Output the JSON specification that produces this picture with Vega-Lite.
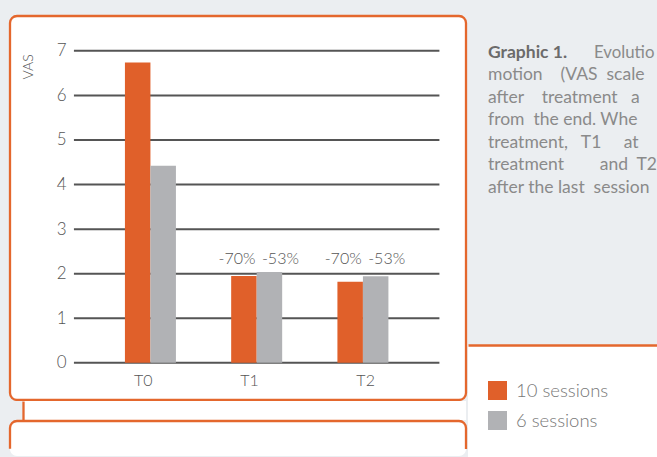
{
  "$schema": "https://vega.github.io/schema/vega-lite/v6.json",
  "background": "#ebeef1",
  "padding": {"left": 8, "top": 14, "right": 0, "bottom": 0},
  "spacing": 0,
  "datasets": {
    "vas": [
      {"time": "T0", "series": "10 sessions", "value": 6.74},
      {"time": "T0", "series": "6 sessions", "value": 4.42},
      {"time": "T1", "series": "10 sessions", "value": 1.95},
      {"time": "T1", "series": "6 sessions", "value": 2.04},
      {"time": "T2", "series": "10 sessions", "value": 1.82},
      {"time": "T2", "series": "6 sessions", "value": 1.94}
    ],
    "change": [
      {"time": "T1", "series": "10 sessions", "label": "-70%"},
      {"time": "T1", "series": "6 sessions", "label": "-53%"},
      {"time": "T2", "series": "10 sessions", "label": "-70%"},
      {"time": "T2", "series": "6 sessions", "label": "-53%"}
    ],
    "grid": [{"v": 0}, {"v": 1}, {"v": 2}, {"v": 3}, {"v": 4}, {"v": 5}, {"v": 6}, {"v": 7}]
  },
  "config": {
    "font": "Lato",
    "view": {"stroke": null}
  },
  "hconcat": [
    {
      "bounds": "flush",
      "spacing": 1,
      "vconcat": [
        {
          "width": 456,
          "height": 384,
          "view": {"fill": "#ffffff", "stroke": "#e4672d", "strokeWidth": 2.3, "cornerRadius": 7},
          "layer": [
            {
              "data": {"name": "grid"},
              "mark": {"type": "rule", "color": "#555555", "strokeWidth": 2},
              "encoding": {
                "y": {
                  "field": "v", "type": "quantitative",
                  "scale": {"domain": [-0.834, 7.782], "nice": false, "zero": false},
                  "axis": {
                    "orient": "left", "offset": -64, "domain": false, "ticks": false, "tickSize": 0, "grid": false,
                    "values": [0, 1, 2, 3, 4, 5, 6, 7], "labelPadding": 8,
                    "labelFont": "Lato", "labelFontSize": 17, "labelFontWeight": 300, "labelColor": "#555555",
                    "title": "VAS", "titleX": -45.2, "titleY": 50.4, "titleAngle": 270, "titleAlign": "center", "titleBaseline": "middle",
                    "titleFont": "Lato", "titleFontSize": 14, "titleFontWeight": 300, "titleColor": "#555555"
                  }
                },
                "x": {"datum": "T0", "type": "nominal", "bandPosition": -1},
                "x2": {"datum": "T2", "bandPosition": 2}
              }
            },
            {
              "data": {"name": "vas"},
              "mark": {"type": "bar"},
              "encoding": {
                "x": {
                  "field": "time", "type": "nominal",
                  "scale": {"paddingInner": 0.52, "paddingOuter": 0.906, "align": 0.597, "round": false},
                  "axis": {
                    "orient": "bottom", "offset": -37, "domain": false, "ticks": false, "tickSize": 0, "grid": false,
                    "labelPadding": 17, "labelAngle": 0, "title": null,
                    "labelOffset": {"condition": {"test": "datum.value === 'T2'", "value": 12}, "value": 2},
                    "labelFont": "Lato", "labelFontSize": 16, "labelFontWeight": 300, "labelColor": "#555555"
                  }
                },
                "xOffset": {"field": "series", "type": "nominal", "scale": {"domain": ["10 sessions", "6 sessions"], "paddingInner": 0, "paddingOuter": 0}},
                "y": {"field": "value", "type": "quantitative"},
                "color": {
                  "field": "series", "type": "nominal",
                  "scale": {"domain": ["10 sessions", "6 sessions"], "range": ["#e0602a", "#b1b2b5"]},
                  "legend": {
                    "orient": "none", "legendX": 478, "legendY": 365, "title": null, "padding": 0,
                    "symbolType": "square", "symbolSize": 361, "symbolStrokeWidth": 0, "symbolOpacity": 1,
                    "labelFont": "Lato", "labelFontSize": 18.5, "labelFontWeight": 300, "labelColor": "#777777",
                    "labelOffset": 9, "rowPadding": 11
                  }
                }
              }
            },
            {
              "data": {"name": "change"},
              "transform": [{"filter": "datum.series === '10 sessions'"}],
              "mark": {"type": "text", "font": "Lato", "fontSize": 16, "fontWeight": 300, "color": "#555555", "baseline": "middle", "dx": -7},
              "encoding": {
                "x": {"field": "time", "type": "nominal"},
                "xOffset": {"field": "series", "type": "nominal"},
                "y": {"datum": 2.333, "type": "quantitative"},
                "text": {"field": "label"}
              }
            },
            {
              "data": {"name": "change"},
              "transform": [{"filter": "datum.series === '6 sessions'"}],
              "mark": {"type": "text", "font": "Lato", "fontSize": 16, "fontWeight": 300, "color": "#555555", "baseline": "middle", "dx": 11},
              "encoding": {
                "x": {"field": "time", "type": "nominal"},
                "xOffset": {"field": "series", "type": "nominal"},
                "y": {"datum": 2.333, "type": "quantitative"},
                "text": {"field": "label"}
              }
            }
          ]
        },
        {
          "width": 456, "height": 19, "data": {"values": []}, "mark": "point",
          "view": {
            "stroke": null,
            "fill": {"gradient": "linear", "x1": 0, "x2": 1, "y1": 0, "y2": 0,
                     "stops": [{"offset": 0, "color": "#ebeef1"}, {"offset": 0.0285, "color": "#ebeef1"},
                               {"offset": 0.0286, "color": "#ffffff"}, {"offset": 1, "color": "#ffffff"}]}
          },
          "encoding": {
            "y": {"field": "a", "type": "quantitative",
                  "axis": {"orient": "left", "offset": -13, "domain": true, "domainColor": "#e4672d", "domainWidth": 2.3,
                           "labels": false, "ticks": false, "grid": false, "title": null}}
          }
        },
        {
          "width": 456, "height": 35, "data": {"values": []}, "mark": "point",
          "view": {"fill": "#ffffff", "stroke": "#e4672d", "strokeWidth": 2.3, "cornerRadius": 7, "strokeDash": [474, 464, 32, 3000]}
        }
      ]
    },
    {
      "bounds": "flush",
      "spacing": 0,
      "vconcat": [
        {
          "width": 190.5, "height": 329, "data": {"values": []}, "mark": "point",
          "view": {"fill": null, "stroke": null},
          "title": {
            "text": "Graphic 1.",
            "subtitle": [
              "motion\u00a0\u00a0\u00a0\u00a0(VAS\u00a0\u00a0scale",
              "after\u00a0\u00a0\u00a0\u00a0treatment\u00a0\u00a0\u00a0a",
              "from\u00a0\u00a0the\u00a0end.\u00a0Whe",
              "treatment,\u00a0\u00a0\u00a0T1\u00a0\u00a0\u00a0\u00a0\u00a0at",
              "treatment\u00a0\u00a0\u00a0\u00a0\u00a0\u00a0\u00a0\u00a0and\u00a0\u00a0T2",
              "after\u00a0the\u00a0last\u00a0\u00a0session"
            ],
            "anchor": "start", "frame": "group", "orient": "top", "offset": -180, "dx": 20,
            "font": "Lato", "fontSize": 17.5, "fontWeight": "bold", "color": "#6b6b6b",
            "subtitleFont": "Lato", "subtitleFontSize": 17.5, "subtitleFontWeight": "normal", "subtitleColor": "#8a8a8a",
            "subtitleLineHeight": 22.5, "subtitlePadding": 5
          }
        },
        {
          "width": 190.5, "height": 114, "data": {"values": []}, "mark": "point",
          "view": {"fill": "#ffffff", "stroke": null},
          "title": {
            "text": "Evolutio",
            "anchor": "start", "frame": "group", "orient": "top", "offset": 283.5, "dx": 126,
            "font": "Lato", "fontSize": 16.8, "fontWeight": "normal", "color": "#8a8a8a"
          },
          "encoding": {
            "x": {"field": "a", "type": "quantitative",
                  "axis": {"orient": "top", "domain": true, "domainColor": "#e4672d", "domainWidth": 2.3,
                           "labels": false, "ticks": false, "grid": false, "title": null}}
          }
        }
      ]
    }
  ]
}
